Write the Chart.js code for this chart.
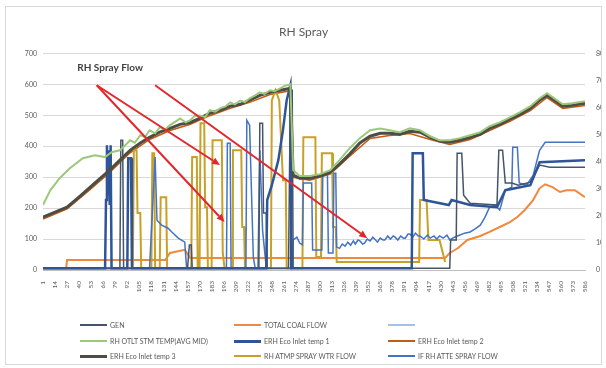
<!DOCTYPE html>
<html>
<head>
<meta charset="utf-8">
<script src="https://cdn.jsdelivr.net/npm/chart.js@4"></script>
<style>
  html, body { margin: 0; padding: 0; background: #fff; }
  #wrap { position: relative; width: 606px; height: 368px; font-family: Lato, 'Liberation Sans', sans-serif; }
  #frame { position: absolute; left: 5px; top: 6px; width: 595px; height: 357px; border: 1px solid #d9d9d9; pointer-events: none; }
  #legend { position: absolute; left: 0; top: 0; width: 606px; height: 368px; pointer-events: none; }
  .item { position: absolute; display: flex; align-items: center; height: 10px; font-size: 7px; color: #595959; white-space: nowrap; }
  .item i { display: inline-block; width: 27px; height: 2px; margin-right: 3px; }
</style>
</head>
<body>
<div id="wrap">
  <canvas id="c" width="606" height="368"></canvas>
  <div id="frame"></div>
  <div id="legend"></div>
</div>
<script>
// Sample numbers shown on the horizontal axis
const xTicks = [1,14,27,40,53,66,79,92,105,118,131,144,157,170,183,196,209,222,235,248,261,274,287,300,
  313,326,339,352,365,378,391,404,417,430,443,456,469,482,495,508,521,534,547,560,573,586];

const seriesNames = ['GEN', 'TOTAL COAL FLOW', '', 'RH OTLT STM TEMP(AVG MID)', 'ERH Eco Inlet temp 1',
  'ERH Eco Inlet temp 2', 'ERH Eco Inlet temp 3', 'RH ATMP SPRAY WTR FLOW', 'IF RH ATTE SPRAY FLOW'];

// [sample, value] readings, left axis (0-700)
const gen = [[1,6],[84,6],[85,419],[87,419],[88,6],[157,6],[159,81],[161,81],[162,6],[234,6],[235,474],
  [238,474],[239,184],[242,184],[243,6],[266,6],[268,581],[270,581],[271,6],[440,6],[441,97],[447,97],
  [448,377],[453,377],[455,242],[462,216],[491,210],[493,387],[497,387],[500,281],[507,281],[514,274],
  [527,284],[537,339],[548,332],[586,332]];

const coalFlow = [[1,6],[26,6],[27,32],[133,32],[138,55],[154,65],[160,39],[435,39],[440,55],[449,71],
  [459,97],[473,110],[483,123],[494,139],[505,155],[513,171],[521,194],[530,226],[537,264],[543,277],
  [551,268],[559,252],[566,258],[575,258],[586,235]];

const unnamed = [[1,0],[270,0]];

const ehTemp1 = [[1,6],[68,6],[69,226],[70,403],[71,242],[72,387],[73,210],[74,403],[75,6],[92,6],
  [93,361],[96,361],[97,6],[242,6],[243,226],[248,274],[255,355],[260,452],[264,548],[268,597],[269,6],
  [399,6],[400,377],[411,377],[412,226],[439,210],[442,226],[462,210],[491,203],[500,258],[527,274],
  [537,348],[586,355]];

const atmpSpray = [[1,6],[98,6],[99,387],[102,387],[103,184],[106,184],[107,6],[118,6],[119,377],[121,377],
  [122,6],[127,6],[128,235],[134,235],[135,6],[161,6],[162,365],[167,365],[168,6],[170,6],[171,474],
  [175,474],[176,203],[178,203],[179,6],[183,6],[184,419],[194,419],[195,55],[197,6],[205,6],[206,387],
  [215,387],[216,139],[218,139],[219,6],[247,6],[248,548],[252,581],[256,548],[260,290],[263,290],[264,6],
  [281,6],[282,429],[295,429],[296,42],[301,42],[302,377],[313,377],[314,139],[317,139],[318,26],[407,26],
  [408,226],[415,226],[417,97],[429,97],[435,26]];

const atteSpray = [[1,6],[116,6],[122,365],[124,161],[129,145],[136,135],[140,123],[147,103],[154,90],
  [156,6],[199,6],[200,410],[203,410],[204,6],[220,6],[221,484],[224,468],[228,42],[230,6],[233,6],
  [235,387],[238,129],[242,6],[270,6],[271,97],[275,106],[278,87],[281,81],[282,281],[291,281],[292,65],
  [302,65],[303,313],[308,313],[309,55],[314,55],[315,313],[317,313],[318,74],[321,70],[324,84],[327,77],
  [330,90],[333,80],[336,94],[338,84],[341,97],[343,94],[346,84],[348,87],[351,100],[354,94],[357,106],
  [359,100],[362,90],[365,103],[368,97],[370,97],[373,110],[376,100],[379,110],[381,106],[384,97],
  [387,110],[390,103],[392,103],[395,116],[397,116],[400,106],[403,119],[406,110],[408,110],[412,100],
  [416,113],[419,103],[423,110],[426,100],[429,110],[433,103],[437,113],[440,97],[445,106],[451,113],
  [456,119],[462,123],[467,132],[473,145],[478,170],[483,203],[489,210],[494,194],[500,258],[507,268],
  [508,397],[513,397],[515,281],[523,274],[530,306],[537,387],[543,413],[586,413]];

// [sample, value] readings, right axis (0-800)
const rhOutletTemp = [[1,240],[9,295],[19,339],[30,376],[44,413],[57,424],[68,417],[75,435],[84,442],
  [90,462],[95,479],[100,470],[106,498],[111,490],[116,516],[122,505],[127,527],[133,520],[138,535],
  [144,548],[149,560],[155,545],[160,553],[165,570],[170,571],[176,565],[181,590],[187,585],[192,597],
  [198,604],[203,619],[208,612],[214,626],[219,620],[224,634],[230,645],[235,656],[240,650],[246,664],
  [251,660],[257,671],[262,680],[268,686],[271,369],[278,347],[289,347],[300,354],[311,369],[321,406],
  [332,450],[343,487],[354,516],[365,523],[375,516],[386,509],[397,523],[408,516],[419,494],[429,479],
  [440,479],[451,487],[462,498],[473,509],[483,531],[494,545],[505,564],[516,583],[527,605],[537,634],
  [545,653],[553,634],[562,612],[572,616],[586,623]];

const ehTemp2 = [[1,188],[27,226],[52,298],[73,360],[95,433],[116,482],[138,515],[160,538],[181,570],
  [203,597],[224,619],[246,648],[268,662],[271,342],[289,332],[311,354],[332,420],[354,486],[375,497],
  [397,504],[419,482],[440,464],[462,482],[483,515],[505,549],[527,589],[545,637],[562,597],[586,608]];

const ehTemp3 = [[1,195],[14,214],[27,232],[41,273],[52,306],[63,339],[73,369],[84,406],[95,442],
  [106,469],[116,490],[127,509],[138,523],[149,538],[160,545],[170,560],[181,579],[192,590],[203,605],
  [214,612],[224,627],[235,645],[246,656],[257,664],[268,671],[271,350],[278,339],[289,339],[300,347],
  [311,361],[321,391],[332,428],[343,469],[354,494],[365,505],[375,505],[386,501],[397,512],[408,509],
  [419,490],[429,476],[440,472],[451,479],[462,490],[473,501],[483,523],[494,538],[505,557],[516,575],
  [527,597],[537,627],[545,645],[553,627],[562,605],[572,608],[586,616]];

// Callout: label anchor and arrows, in [sample, left-axis value]
const calloutText = 'RH Spray Flow';
const calloutAnchor = [38, 655];
const arrowTails = [[59,597],[59,597],[122,597]];
const arrowHeads = [[192,339],[197,155],[351,103]];

const FONT = "Lato, 'Liberation Sans', sans-serif";
const seriesData = [gen, coalFlow, unnamed, rhOutletTemp, ehTemp1, ehTemp2, ehTemp3, atmpSpray, atteSpray];
const seriesColors = ['#44546a', '#f0883e', '#9dc3e6', '#9bc87a', '#2f5597', '#c55a11', '#4d4d45', '#c8a028', '#4472c4'];
const seriesWidths = [1.5, 2, 1.5, 2, 2.5, 1.5, 3, 2, 1.5];
const seriesAxis = ['y', 'y', 'y', 'y1', 'y', 'y1', 'y1', 'y', 'y'];
const seriesOrder = [3, 6, 8, 0, 2, 5, 1, 4, 3];

const datasets = seriesData.map((pts, i) => ({
  label: seriesNames[i],
  data: pts.map(([x, y]) => ({ x, y })),
  borderColor: seriesColors[i],
  backgroundColor: seriesColors[i],
  borderWidth: seriesWidths[i],
  pointRadius: 0,
  tension: 0,
  fill: false,
  yAxisID: seriesAxis[i],
  order: seriesOrder[i]
}));

const calloutPlugin = {
  id: 'sprayCallout',
  afterDatasetsDraw(chart) {
    const { ctx, scales: { x, y } } = chart;
    ctx.save();
    ctx.strokeStyle = '#e3262b';
    ctx.fillStyle = '#e3262b';
    ctx.lineWidth = 2;
    arrowTails.forEach((t, i) => {
      const x0 = x.getPixelForValue(t[0]), y0 = y.getPixelForValue(t[1]);
      const x1 = x.getPixelForValue(arrowHeads[i][0]), y1 = y.getPixelForValue(arrowHeads[i][1]);
      const a = Math.atan2(y1 - y0, x1 - x0);
      const len = 8, half = 3.5;
      const bx = x1 - len * Math.cos(a), by = y1 - len * Math.sin(a);
      ctx.beginPath();
      ctx.moveTo(x0, y0);
      ctx.lineTo(bx, by);
      ctx.stroke();
      ctx.beginPath();
      ctx.moveTo(x1, y1);
      ctx.lineTo(bx + half * Math.sin(a), by - half * Math.cos(a));
      ctx.lineTo(bx - half * Math.sin(a), by + half * Math.cos(a));
      ctx.closePath();
      ctx.fill();
    });
    ctx.fillStyle = '#404040';
    ctx.font = 'bold 10px ' + FONT;
    ctx.textBaseline = 'middle';
    ctx.fillText(calloutText, x.getPixelForValue(calloutAnchor[0]), y.getPixelForValue(calloutAnchor[1]));
    ctx.restore();
  }
};

const tickFont = { family: FONT, size: 7 };

new Chart(document.getElementById('c'), {
  type: 'line',
  data: { datasets },
  options: {
    responsive: false,
    animation: false,
    events: [],
    layout: { padding: { left: 5, right: 4, top: 0, bottom: 70 } },
    plugins: {
      legend: { display: false },
      tooltip: { enabled: false },
      title: {
        display: true, text: 'RH Spray', color: '#595959',
        font: { family: FONT, size: 12, weight: 'normal' },
        padding: { top: 25, bottom: 14 }
      }
    },
    scales: {
      x: {
        type: 'linear', min: 1, max: 586,
        grid: { display: false },
        border: { display: true, color: '#bfbfbf' },
        ticks: { autoSkip: false, minRotation: 90, maxRotation: 90, font: { family: FONT, size: 6.5 }, color: '#595959', padding: 3 },
        afterBuildTicks: ax => { ax.ticks = xTicks.map(v => ({ value: v })); },
        afterFit: ax => { ax.height = 28; }
      },
      y: {
        position: 'left', min: 0, max: 700,
        ticks: { stepSize: 100, font: tickFont, color: '#595959', padding: 6 },
        grid: { color: '#d9d9d9', drawTicks: false },
        border: { display: false },
        afterFit: ax => { ax.width = 38; }
      },
      y1: {
        position: 'right', min: 0, max: 800,
        ticks: { stepSize: 100, font: tickFont, color: '#595959', padding: 3 },
        grid: { display: false },
        border: { display: false },
        afterFit: ax => { ax.width = 17; }
      }
    }
  },
  plugins: [calloutPlugin]
});

// Legend laid out in three columns below the plot
const legendCols = [80, 234, 388];
const legendRows = [325, 341, 356];
const legendBox = document.getElementById('legend');
seriesNames.forEach((name, i) => {
  const item = document.createElement('div');
  item.className = 'item';
  item.style.left = legendCols[i % 3] + 'px';
  item.style.top = (legendRows[Math.floor(i / 3)] - 5) + 'px';
  const swatch = document.createElement('i');
  swatch.style.background = seriesColors[i];
  swatch.style.height = Math.max(2, Math.round(seriesWidths[i])) + 'px';
  const text = document.createElement('span');
  text.textContent = name;
  item.appendChild(swatch);
  item.appendChild(text);
  legendBox.appendChild(item);
});
</script>
</body>
</html>
